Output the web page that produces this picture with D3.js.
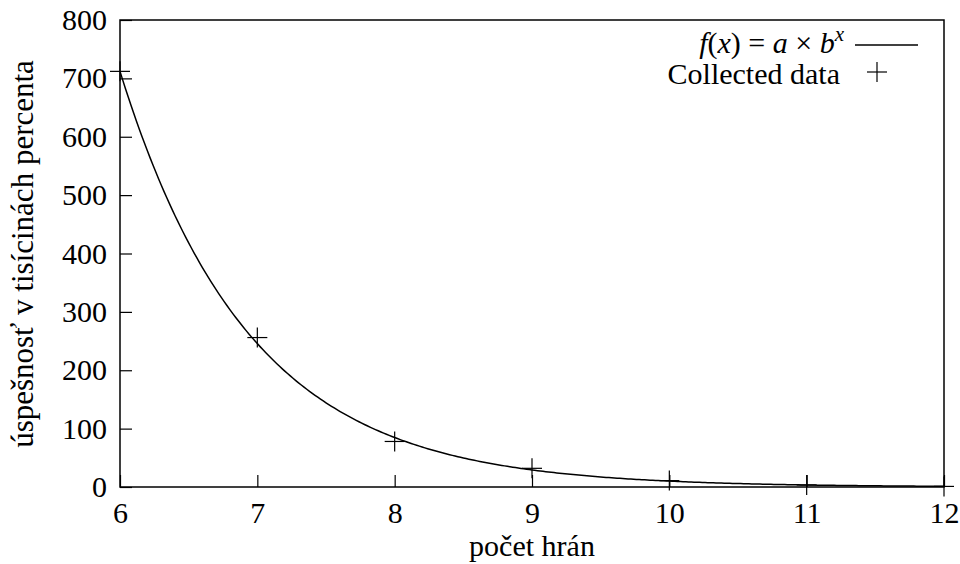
<!DOCTYPE html>
<html>
<head>
<meta charset="utf-8">
<script src="https://cdn.jsdelivr.net/npm/d3@7"></script>
</head>
<body style="margin:0; background:#fff">
<svg id="chart" width="960" height="564" font-family="serif"></svg>
<script>
// collected measurements
var games = [6, 7, 8, 9, 10, 11, 12];
var success = [712, 256, 78, 32, 11, 3.4, 1];

// fitted f(x) = a * b^x
var fitB = 0.345;
var fitA = 712 / Math.pow(fitB, 6);

var xTicks = [6, 7, 8, 9, 10, 11, 12];
var yTicks = [0, 100, 200, 300, 400, 500, 600, 700, 800];

var FONT = "Liberation Serif, serif";
var FS = "30px";

var svg = d3.select("#chart"),
  margin = {top: 20, right: 16, bottom: 77, left: 120},
  width = +svg.attr("width") - margin.left - margin.right,
  height = +svg.attr("height") - margin.top - margin.bottom,
  main = svg.append("g").attr("transform", "translate(" + margin.left + "," + margin.top + ")");

var x = d3.scaleLinear().domain([6, 12]).range([0, width]);
var y = d3.scaleLinear().domain([0, 800]).range([height, 0]);

// axes with inward ticks
var xaxis = d3.axisBottom(x).tickValues(xTicks).tickSize(-12).tickPadding(15).tickFormat(d3.format("d"));
var yaxis = d3.axisLeft(y).tickValues(yTicks).tickSize(-12).tickPadding(13).tickFormat(d3.format("d"));

var gx = main.append("g").attr("transform", "translate(0," + height + ")").call(xaxis);
var gy = main.append("g").call(yaxis);
[gx, gy].forEach(function(g) {
  g.attr("font-family", FONT).attr("font-size", 30);
  g.select(".domain").remove();
  g.selectAll("line").attr("stroke", "#000").attr("stroke-width", 1.2);
  g.selectAll("text").style("font-family", FONT).style("font-size", FS).attr("fill", "#000");
});

// curve, clipped to the plot area
main.append("clipPath").attr("id", "clip").append("rect").attr("width", width).attr("height", height);

var curveX = d3.range(6, 12.0001, 0.02);
var fitLine = d3.line()
  .x(function(d) { return x(d); })
  .y(function(d) { return y(fitA * Math.pow(fitB, d)); });

main.append("path")
  .datum(curveX)
  .attr("clip-path", "url(#clip)")
  .attr("fill", "none")
  .attr("stroke", "#000")
  .attr("stroke-width", 1.5)
  .attr("d", fitLine);

// plus markers
var s = 10;
var pts = main.selectAll("g.pt").data(games).enter().append("g")
  .attr("transform", function(d, i) { return "translate(" + x(d) + "," + y(success[i]) + ")"; });
pts.append("line").attr("x1", -s).attr("x2", s).attr("stroke", "#000").attr("stroke-width", 1.2);
pts.append("line").attr("y1", -s).attr("y2", s).attr("stroke", "#000").attr("stroke-width", 1.2);

// border
main.append("rect").attr("width", width).attr("height", height)
  .attr("fill", "none").attr("stroke", "#000").attr("stroke-width", 1.5);

function txt(sel) {
  return sel.style("font-family", FONT).style("font-size", FS).attr("fill", "#000");
}

// legend
var lg = main.append("g");
var fx = txt(lg.append("text")).attr("x", 724).attr("y", 33).attr("text-anchor", "end");
fx.append("tspan").style("font-style", "italic").text("f");
fx.append("tspan").text("(");
fx.append("tspan").style("font-style", "italic").text("x");
fx.append("tspan").text(") = ");
fx.append("tspan").style("font-style", "italic").text("a");
fx.append("tspan").text(" × ");
fx.append("tspan").style("font-style", "italic").text("b");
fx.append("tspan").style("font-style", "italic").style("font-size", "21px").attr("dy", -12).text("x");
lg.append("line").attr("x1", 735).attr("x2", 798).attr("y1", 25).attr("y2", 25)
  .attr("stroke", "#000").attr("stroke-width", 1.5);

txt(lg.append("text")).attr("x", 720).attr("y", 64).attr("text-anchor", "end").text("Collected data");
lg.append("line").attr("x1", 757 - s).attr("x2", 757 + s).attr("y1", 52).attr("y2", 52).attr("stroke", "#000").attr("stroke-width", 1.2);
lg.append("line").attr("x1", 757).attr("x2", 757).attr("y1", 52 - s).attr("y2", 52 + s).attr("stroke", "#000").attr("stroke-width", 1.2);

// axis titles
txt(svg.append("text")).attr("x", margin.left + width / 2).attr("y", 556).attr("text-anchor", "middle")
  .text("počet hrán");
txt(svg.append("text")).attr("transform", "translate(33,254) rotate(-90)")
  .attr("text-anchor", "middle").style("font-size", "31px").text("úspešnosť v tisícinách percenta");
</script>
</body>
</html>
